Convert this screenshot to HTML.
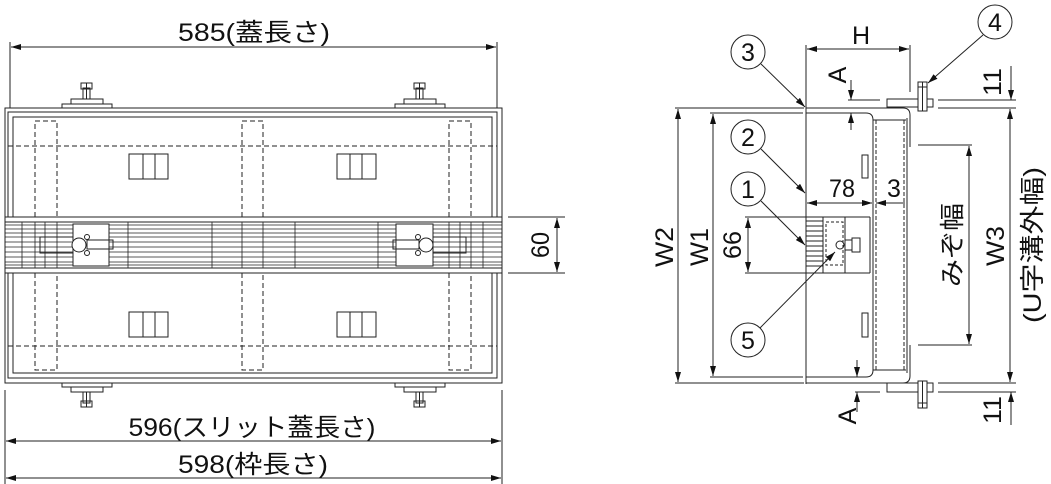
<!DOCTYPE html>
<html><head><meta charset="utf-8"><style>
html,body{margin:0;padding:0;background:#fff;}
svg{display:block;}
text{font-family:"Liberation Sans","Noto Sans CJK JP",sans-serif;fill:#111;}
</style></head><body>
<svg width="1051" height="484" viewBox="0 0 1051 484" xmlns="http://www.w3.org/2000/svg">
<defs>
<marker id="a" viewBox="0 0 10 6" refX="10" refY="3" markerWidth="10" markerHeight="6" markerUnits="userSpaceOnUse" orient="auto-start-reverse"><path d="M0,0L10,3L0,6z" fill="#111"/></marker>
</defs>
<g stroke="#222" stroke-width="1" fill="none">
<!-- LEFT: top dimension -->
<line x1="10" y1="42" x2="10" y2="108"/><line x1="497" y1="42" x2="497" y2="108"/>
<line x1="11" y1="47" x2="496" y2="47" marker-start="url(#a)" marker-end="url(#a)"/>
<!-- bottom dims -->
<line x1="5" y1="390" x2="5" y2="484"/><line x1="502" y1="390" x2="502" y2="484"/>
<line x1="6" y1="441" x2="501" y2="441" marker-start="url(#a)" marker-end="url(#a)"/>
<line x1="6" y1="478" x2="501" y2="478" marker-start="url(#a)" marker-end="url(#a)"/>
<!-- frame -->
<rect x="5" y="108" width="497" height="275"/>
<rect x="8" y="112" width="489" height="266"/>
<rect x="13" y="117" width="479" height="256"/>
<!-- bolts top -->
<g>
<rect x="62" y="104" width="50" height="4"/><rect x="71" y="99" width="32" height="5"/>
<rect x="83" y="88" width="7" height="11"/><rect x="81" y="83" width="11" height="6"/><line x1="86.5" y1="83" x2="86.5" y2="99"/>
<rect x="395" y="104" width="50" height="4"/><rect x="404" y="99" width="32" height="5"/>
<rect x="416" y="88" width="7" height="11"/><rect x="414" y="83" width="11" height="6"/><line x1="419.5" y1="83" x2="419.5" y2="99"/>
<rect x="62" y="383" width="50" height="4"/><rect x="71" y="387" width="32" height="5"/>
<rect x="83" y="392" width="7" height="11"/><rect x="81" y="401" width="11" height="6"/><line x1="86.5" y1="392" x2="86.5" y2="407"/>
<rect x="395" y="383" width="50" height="4"/><rect x="404" y="387" width="32" height="5"/>
<rect x="416" y="392" width="7" height="11"/><rect x="414" y="401" width="11" height="6"/><line x1="419.5" y1="392" x2="419.5" y2="407"/>
</g>
<!-- dashed -->
<g stroke-dasharray="5,3">
<line x1="8" y1="146" x2="497" y2="146"/><line x1="8" y1="346" x2="497" y2="346"/>
<path d="M35,217V121H57V217M242,217V121H263V217M449,217V121H471V217"/>
<path d="M35,273V370H57V273M242,273V370H263V273M449,273V370H471V273"/>
</g>
<!-- windows -->
<g>
<rect x="129" y="154" width="39" height="25"/><line x1="143" y1="154" x2="143" y2="179"/><line x1="155" y1="154" x2="155" y2="179"/>
<rect x="337" y="154" width="39" height="25"/><line x1="350" y1="154" x2="350" y2="179"/><line x1="362" y1="154" x2="362" y2="179"/>
<rect x="129" y="312" width="39" height="25"/><line x1="143" y1="312" x2="143" y2="337"/><line x1="155" y1="312" x2="155" y2="337"/>
<rect x="337" y="312" width="39" height="25"/><line x1="350" y1="312" x2="350" y2="337"/><line x1="362" y1="312" x2="362" y2="337"/>
</g>
<!-- grating band -->
<rect x="5" y="217" width="497" height="56" fill="#fff"/>
<line x1="5" y1="222" x2="502" y2="222"/><line x1="5" y1="268" x2="502" y2="268"/>
<path d="M5,225H502M5,229H502M5,233H502M5,237H502M5,242H502M5,247H502M5,252H502M5,257H502M5,262H502M5,265H502" stroke-width="0.8"/>
<path d="M22,222V268M45,222V268M128,222V268M212,222V268M295,222V268M378,222V268M460,222V268M483,222V268M35,222V268M57,222V268M242,222V268M263,222V268M449,222V268M471,222V268" stroke-width="0.8"/>
<!-- clamps -->
<rect x="73" y="224" width="36" height="42" fill="#fff"/>
<rect x="40" y="237" width="33" height="16"/><rect x="87" y="240" width="26" height="9"/>
<circle cx="79" cy="245" r="7" fill="#fff"/><circle cx="87" cy="237" r="2.5" fill="#fff"/><circle cx="87" cy="253" r="2.5" fill="#fff"/>
<rect x="396" y="224" width="37" height="42" fill="#fff"/>
<rect x="433" y="237" width="33" height="16"/><rect x="393" y="240" width="26" height="9"/>
<circle cx="426" cy="245" r="7" fill="#fff"/><circle cx="418" cy="237" r="2.5" fill="#fff"/><circle cx="418" cy="253" r="2.5" fill="#fff"/>
<!-- 60 dim -->
<line x1="508" y1="217" x2="565" y2="217"/><line x1="508" y1="273" x2="565" y2="273"/>
<line x1="557" y1="218" x2="557" y2="272" marker-start="url(#a)" marker-end="url(#a)"/>

<!-- RIGHT -->
<line x1="806" y1="45" x2="806" y2="107"/><line x1="910" y1="45" x2="910" y2="92"/>
<line x1="807" y1="49" x2="909" y2="49" marker-start="url(#a)" marker-end="url(#a)"/>
<!-- W2 W1 -->
<line x1="675" y1="108" x2="804" y2="108"/><line x1="675" y1="383" x2="804" y2="383"/>
<line x1="678" y1="109" x2="678" y2="382" marker-start="url(#a)" marker-end="url(#a)"/>
<line x1="710" y1="113" x2="803" y2="113"/><line x1="710" y1="377" x2="803" y2="377"/>
<line x1="713" y1="114" x2="713" y2="376" marker-start="url(#a)" marker-end="url(#a)"/>
<line x1="745" y1="217" x2="870" y2="217"/><line x1="745" y1="273" x2="870" y2="273"/>
<line x1="748" y1="218" x2="748" y2="272" marker-start="url(#a)" marker-end="url(#a)"/>
<!-- U channel -->
<line x1="806" y1="107" x2="806" y2="384"/>
<path d="M806,113H866Q873,113 873,120V370Q873,377 866,377H806"/>
<path d="M806,108H903Q910,108 910,115V147M910,345V376Q910,383 903,383H806"/>
<path d="M873,120H906M873,370H906"/>
<line x1="907" y1="118" x2="907" y2="373"/>
<path d="M876,120V370M904,120V370" stroke-dasharray="4,2"/>
<rect x="862" y="155" width="6" height="23"/><rect x="862" y="313" width="6" height="24"/>
<!-- flanges / bolts -->
<rect x="887" y="99" width="46" height="8"/><rect x="918" y="82" width="9" height="29" fill="#fff"/><line x1="918" y1="87" x2="927" y2="87"/><line x1="922.5" y1="82" x2="922.5" y2="111"/>
<rect x="887" y="383" width="46" height="9"/><rect x="918" y="381" width="9" height="27" fill="#fff"/><line x1="918" y1="403" x2="927" y2="403"/><line x1="922.5" y1="381" x2="922.5" y2="408"/>
<!-- center grating section -->
<path d="M806,221H823M806,226H823M806,231H823M806,236H823M806,241H823M806,246H823M806,251H823M806,256H823M806,261H823M806,266H823"/>
<line x1="823" y1="217" x2="823" y2="273"/><line x1="845" y1="217" x2="845" y2="273"/><line x1="870" y1="217" x2="870" y2="273"/>
<rect x="826" y="222" width="17" height="43" stroke-dasharray="3,2"/>
<rect x="845" y="240" width="7" height="10"/><rect x="852" y="238" width="8" height="14"/><circle cx="840" cy="245" r="4"/>
<!-- 78 / 3 -->
<line x1="807" y1="203" x2="872" y2="203" marker-start="url(#a)" marker-end="url(#a)"/>
<line x1="862" y1="203" x2="872" y2="203" marker-end="url(#a)"/>
<line x1="876" y1="203" x2="905" y2="203" marker-start="url(#a)"/>
<!-- A dims -->
<line x1="848" y1="100" x2="880" y2="100"/>
<line x1="851" y1="80" x2="851" y2="100" marker-end="url(#a)"/>
<line x1="851" y1="130" x2="851" y2="113" marker-end="url(#a)"/>
<line x1="855" y1="392" x2="880" y2="392"/>
<line x1="857" y1="360" x2="857" y2="377" marker-end="url(#a)"/>
<line x1="857" y1="412" x2="857" y2="392" marker-end="url(#a)"/>
<!-- みぞ幅 -->
<line x1="918" y1="145" x2="972" y2="145"/><line x1="918" y1="345" x2="972" y2="345"/>
<line x1="969" y1="146" x2="969" y2="344" marker-start="url(#a)" marker-end="url(#a)"/>
<!-- W3 / 11 -->
<line x1="938" y1="100" x2="1016" y2="100"/><line x1="938" y1="108" x2="1016" y2="108"/>
<line x1="938" y1="383" x2="1016" y2="383"/><line x1="938" y1="392" x2="1016" y2="392"/>
<line x1="1010" y1="109" x2="1010" y2="382" marker-start="url(#a)" marker-end="url(#a)"/>
<line x1="1011" y1="66" x2="1011" y2="100" marker-end="url(#a)"/>
<line x1="1011" y1="425" x2="1011" y2="392" marker-end="url(#a)"/>
<!-- balloons -->
<circle cx="748" cy="52" r="17"/><line x1="761" y1="64" x2="805" y2="107" marker-end="url(#a)"/>
<circle cx="748" cy="137" r="17"/><line x1="761" y1="149" x2="805" y2="193" marker-end="url(#a)"/>
<circle cx="748" cy="189" r="17"/><line x1="761" y1="201" x2="805" y2="245" marker-end="url(#a)"/>
<circle cx="748" cy="340" r="17"/><line x1="760" y1="328" x2="835" y2="252" marker-end="url(#a)"/>
<circle cx="995" cy="22" r="17"/><line x1="983" y1="35" x2="928" y2="83" marker-end="url(#a)"/>
</g>
<g font-size="25">
<text x="254" y="41" text-anchor="middle" textLength="152" lengthAdjust="spacingAndGlyphs">585(蓋長さ)</text>
<text x="252" y="436" text-anchor="middle" textLength="247" lengthAdjust="spacingAndGlyphs">596(スリット蓋長さ)</text>
<text x="253" y="473" text-anchor="middle" textLength="150" lengthAdjust="spacingAndGlyphs">598(枠長さ)</text>
<text transform="translate(549,245) rotate(-90)" text-anchor="middle" textLength="26" lengthAdjust="spacingAndGlyphs">60</text>
<text x="861" y="44" text-anchor="middle">H</text>
<text x="842" y="197" text-anchor="middle" textLength="26" lengthAdjust="spacingAndGlyphs">78</text>
<text x="894" y="197" text-anchor="middle">3</text>
<text transform="translate(673,247) rotate(-90)" text-anchor="middle" textLength="40" lengthAdjust="spacingAndGlyphs">W2</text>
<text transform="translate(708,247) rotate(-90)" text-anchor="middle" textLength="38" lengthAdjust="spacingAndGlyphs">W1</text>
<text transform="translate(741,245) rotate(-90)" text-anchor="middle" textLength="28" lengthAdjust="spacingAndGlyphs">66</text>
<text transform="translate(961,245) rotate(-90)" text-anchor="middle" textLength="84" lengthAdjust="spacingAndGlyphs">みぞ幅</text>
<text transform="translate(1004,246) rotate(-90)" text-anchor="middle" textLength="40" lengthAdjust="spacingAndGlyphs">W3</text>
<text transform="translate(1041,245) rotate(-90)" text-anchor="middle" textLength="156" lengthAdjust="spacingAndGlyphs">(U字溝外幅)</text>
<text transform="translate(1001,82) rotate(-90)" text-anchor="middle" textLength="28" lengthAdjust="spacingAndGlyphs">11</text>
<text transform="translate(1001,410) rotate(-90)" text-anchor="middle" textLength="28" lengthAdjust="spacingAndGlyphs">11</text>
<text transform="translate(846,75) rotate(-90)" text-anchor="middle">A</text>
<text transform="translate(856,416) rotate(-90)" text-anchor="middle">A</text>
<text x="748" y="61" text-anchor="middle">3</text>
<text x="748" y="146" text-anchor="middle">2</text>
<text x="748" y="198" text-anchor="middle">1</text>
<text x="748" y="349" text-anchor="middle">5</text>
<text x="995" y="31" text-anchor="middle">4</text>
</g>
</svg>
</body></html>
